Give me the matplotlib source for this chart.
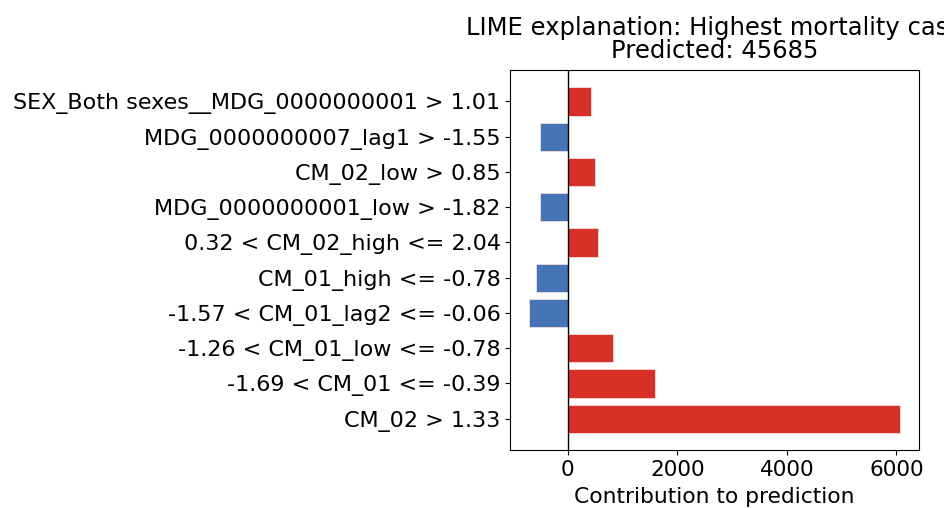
import numpy as np
import matplotlib
matplotlib.use("Agg")
import matplotlib.pyplot as plt

# features listed top to bottom as in the chart
features = [
    "SEX_Both sexes__MDG_0000000001 > 1.01",
    "MDG_0000000007_lag1 > -1.55",
    "CM_02_low > 0.85",
    "MDG_0000000001_low > -1.82",
    "0.32 < CM_02_high <= 2.04",
    "CM_01_high <= -0.78",
    "-1.57 < CM_01_lag2 <= -0.06",
    "-1.26 < CM_01_low <= -0.78",
    "-1.69 < CM_01 <= -0.39",
    "CM_02 > 1.33",
]
weights = [416, -502, 496, -515, 544, -580, -712, 818, 1584, 6075]
title = "LIME explanation: Highest mortality case\nPredicted: 45685"

fig = plt.figure(figsize=(9.45, 5.08), dpi=100)
ax = fig.add_axes([0.54, 0.114, 0.4325, 0.748])

labels = features[::-1]
vals = np.array(weights[::-1])
pos = np.arange(len(vals))
cols = ["#d73027" if v > 0 else "#4575b4" for v in vals]
ax.barh(pos, vals, height=0.8, color=cols, edgecolor="#f4dcdc", linewidth=0.6)
ax.axvline(0, color="black", linewidth=1)
ax.set_yticks(pos)
ax.set_yticklabels(labels, fontsize=16)
ax.tick_params(axis="x", labelsize=15.5)
ax.set_xticks([0, 2000, 4000, 6000])
ax.set_xlabel("Contribution to prediction", fontsize=15.7, labelpad=5)
ax.set_title(title, fontsize=17.5, linespacing=0.95, pad=9)

fig.savefig("out.png", dpi=100)
